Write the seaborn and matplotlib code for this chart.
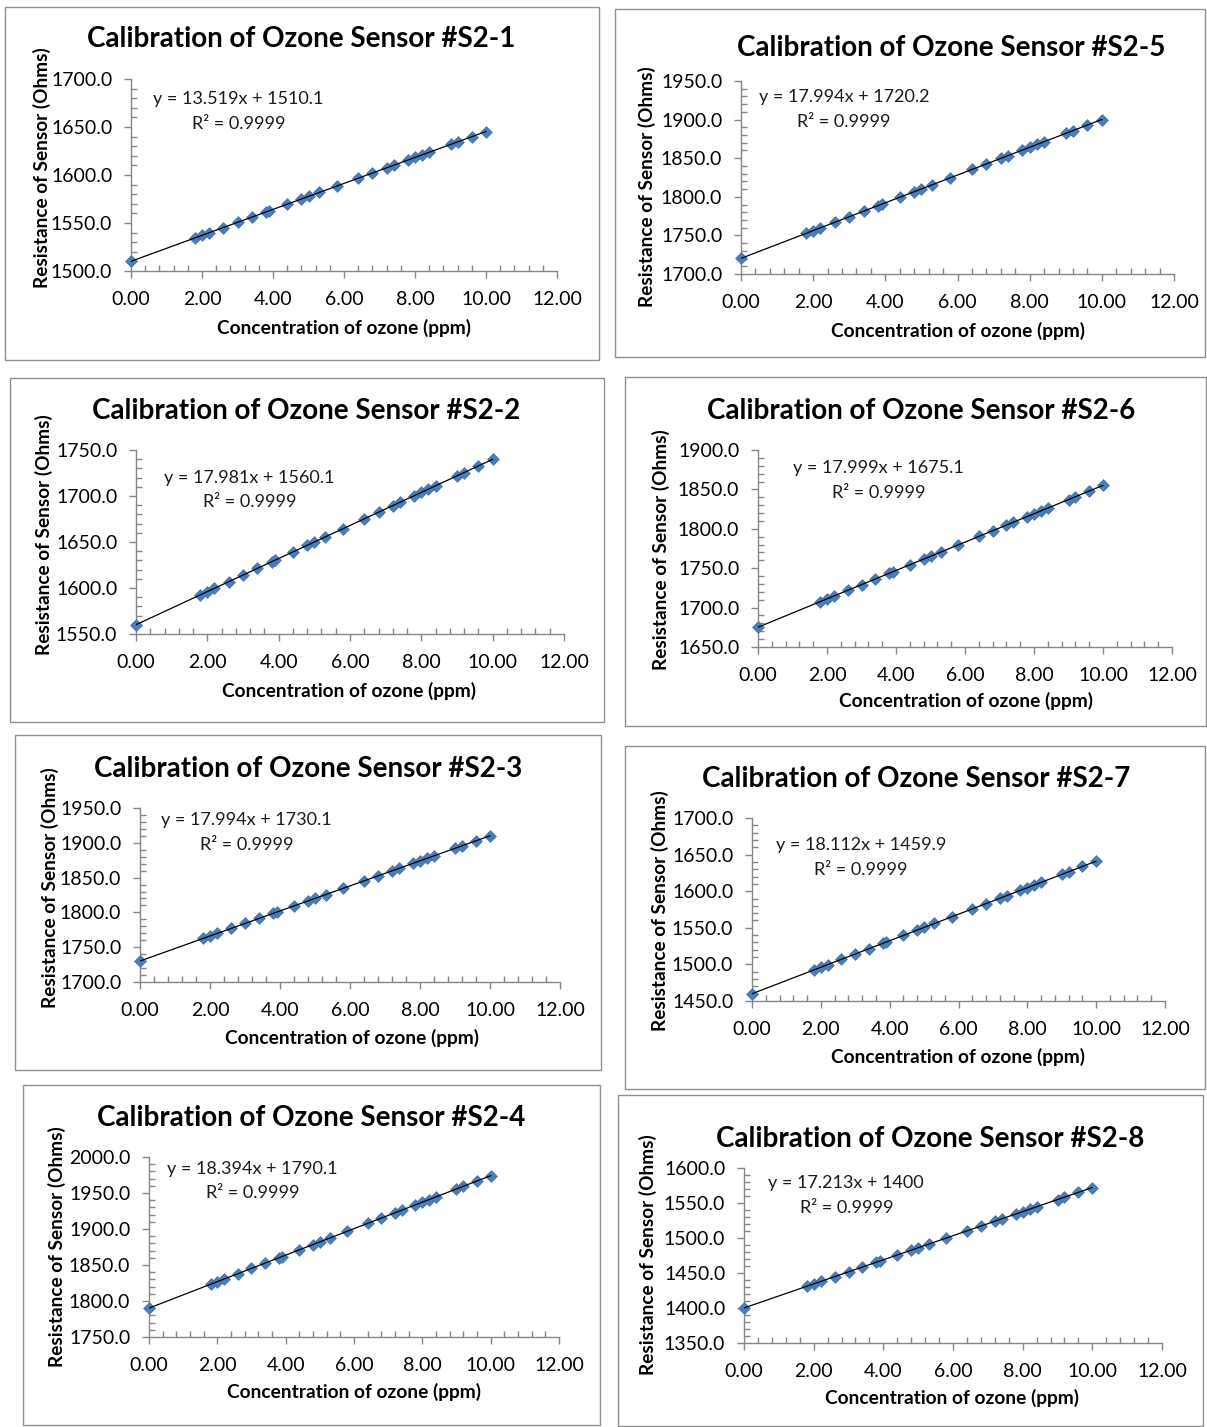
import numpy as np
import pandas as pd
import matplotlib
matplotlib.use("Agg")
import matplotlib.pyplot as plt
from matplotlib.patches import Rectangle
from matplotlib.ticker import MultipleLocator, FormatStrFormatter
import seaborn as sns

sns.set_theme(style="white")
plt.rcParams['font.family'] = ['Lato', 'DejaVu Sans']

# ---------------- data ----------------
concentration = [0.0, 1.8, 2.0, 2.2, 2.6, 3.0, 3.4, 3.8, 3.9, 4.4, 4.8, 5.0, 5.3,
                 5.8, 6.4, 6.8, 7.2, 7.4, 7.8, 8.0, 8.2, 8.4, 9.0, 9.2, 9.6, 10.0]

s2_1 = [1510.1, 1534.4, 1537.1, 1539.8, 1545.3, 1550.7, 1556.1, 1561.5, 1562.8, 1569.6,
        1575.0, 1577.7, 1581.8, 1588.5, 1596.6, 1602.0, 1607.4, 1610.1, 1615.6, 1618.3,
        1621.0, 1623.7, 1631.8, 1634.5, 1639.9, 1645.3]
s2_2 = [1560.1, 1592.5, 1596.1, 1599.7, 1606.9, 1614.0, 1621.2, 1628.4, 1630.2, 1639.2,
        1646.4, 1650.0, 1655.4, 1664.4, 1675.2, 1682.4, 1689.6, 1693.2, 1700.4, 1703.9,
        1707.5, 1711.1, 1721.9, 1725.5, 1732.7, 1739.9]
s2_3 = [1730.1, 1762.5, 1766.1, 1769.7, 1776.9, 1784.1, 1791.3, 1798.5, 1800.3, 1809.3,
        1816.5, 1820.1, 1825.5, 1834.5, 1845.3, 1852.5, 1859.7, 1863.3, 1870.5, 1874.1,
        1877.7, 1881.3, 1892.0, 1895.6, 1902.8, 1910.0]
s2_4 = [1790.1, 1823.2, 1826.9, 1830.6, 1837.9, 1845.3, 1852.6, 1860.0, 1861.8, 1871.0,
        1878.4, 1882.1, 1887.6, 1896.8, 1907.8, 1915.2, 1922.5, 1926.2, 1933.6, 1937.3,
        1940.9, 1944.6, 1955.6, 1959.3, 1966.7, 1974.0]
s2_5 = [1720.2, 1752.6, 1756.2, 1759.8, 1767.0, 1774.2, 1781.4, 1788.6, 1790.4, 1799.4,
        1806.6, 1810.2, 1815.6, 1824.6, 1835.4, 1842.6, 1849.8, 1853.4, 1860.6, 1864.2,
        1867.8, 1871.4, 1882.1, 1885.7, 1892.9, 1900.1]
s2_6 = [1675.1, 1707.5, 1711.1, 1714.7, 1721.9, 1729.1, 1736.3, 1743.5, 1745.3, 1754.3,
        1761.5, 1765.1, 1770.5, 1779.5, 1790.3, 1797.5, 1804.7, 1808.3, 1815.5, 1819.1,
        1822.7, 1826.3, 1837.1, 1840.7, 1847.9, 1855.1]
s2_7 = [1459.9, 1492.5, 1496.1, 1499.7, 1507.0, 1514.2, 1521.5, 1528.7, 1530.5, 1539.6,
        1546.8, 1550.5, 1555.9, 1565.0, 1575.8, 1583.1, 1590.3, 1593.9, 1601.2, 1604.8,
        1608.4, 1612.0, 1622.9, 1626.5, 1633.8, 1641.0]
s2_8 = [1400.0, 1431.0, 1434.4, 1437.9, 1444.8, 1451.6, 1458.5, 1465.4, 1467.1, 1475.7,
        1482.6, 1486.1, 1491.2, 1499.8, 1510.2, 1517.0, 1523.9, 1527.4, 1534.3, 1537.7,
        1541.1, 1544.6, 1554.9, 1558.4, 1565.2, 1572.1]

sensor_names = ["#S2-1", "#S2-2", "#S2-3", "#S2-4", "#S2-5", "#S2-6", "#S2-7", "#S2-8"]
sensor_values = [s2_1, s2_2, s2_3, s2_4, s2_5, s2_6, s2_7, s2_8]
equations = ["y = 13.519x + 1510.1", "y = 17.981x + 1560.1", "y = 17.994x + 1730.1",
             "y = 18.394x + 1790.1", "y = 17.994x + 1720.2", "y = 17.999x + 1675.1",
             "y = 18.112x + 1459.9", "y = 17.213x + 1400"]
r_squared = ["R\u00b2 = 0.9999"] * 8
y_ranges = [(1500, 1700), (1550, 1750), (1700, 1950), (1750, 2000),
            (1700, 1950), (1650, 1900), (1450, 1700), (1350, 1600)]

x_label = "Concentration of ozone (ppm)"
y_label = "Resistance of Sensor (Ohms)"
title_prefix = "Calibration of Ozone Sensor "

# ---------------- layout (pixels) ----------------
W, H = 1207, 1427
layout = [
    dict(box=(5, 7, 599, 360), ax=(131, 557, 79, 271), title=(301, 38), ylab=(42, 168),
         xlab=(344, 328), eq=(153, 99), r2=(192, 124)),
    dict(box=(10, 378, 604, 722), ax=(136, 564, 450, 634), title=(306, 410), ylab=(44, 535),
         xlab=(349, 691), eq=(164, 478), r2=(203, 502)),
    dict(box=(15, 735, 601, 1070), ax=(140, 560, 808, 982), title=(308, 768), ylab=(50, 888),
         xlab=(352, 1038), eq=(161, 820), r2=(200, 845)),
    dict(box=(23, 1085, 600, 1425), ax=(149, 559, 1157, 1337), title=(311, 1117), ylab=(57, 1247),
         xlab=(354, 1392), eq=(167, 1169), r2=(206, 1193)),
    dict(box=(615, 9, 1205, 357), ax=(741, 1174, 81, 274), title=(951, 47), ylab=(647, 187),
         xlab=(958, 331), eq=(759, 97), r2=(797, 122)),
    dict(box=(625, 377, 1206, 726), ax=(758, 1172, 450, 647), title=(921, 410), ylab=(661, 550),
         xlab=(966, 701), eq=(793, 468), r2=(832, 493)),
    dict(box=(625, 746, 1205, 1089), ax=(752, 1165, 818, 1001), title=(916, 778), ylab=(660, 911),
         xlab=(958, 1057), eq=(776, 845), r2=(814, 870)),
    dict(box=(618, 1095, 1203, 1426), ax=(744, 1162, 1168, 1343), title=(930, 1138), ylab=(648, 1255),
         xlab=(952, 1398), eq=(768, 1183), r2=(800, 1208)),
]

marker_color = "#4A7EBB"
axis_color = "#868686"

fig = plt.figure(figsize=(W / 100, H / 100), dpi=100)
fig.patch.set_facecolor("white")

def fx(px):
    return px / W

def fy(py):
    return 1 - py / H

for name, vals, eq, r2, yr, lay in zip(sensor_names, sensor_values, equations,
                                       r_squared, y_ranges, layout):
    bl, bt, br, bb = lay["box"]
    fig.patches.append(Rectangle((fx(bl), fy(bb)), fx(br) - fx(bl), fy(bt) - fy(bb),
                                 transform=fig.transFigure, fill=False,
                                 edgecolor="#8f8f8f", lw=1.0, zorder=0))
    al, ar, at, ab = lay["ax"]
    ax = fig.add_axes([fx(al), fy(ab), fx(ar) - fx(al), fy(at) - fy(ab)])
    df = pd.DataFrame({"conc": concentration, "res": vals})
    sns.regplot(data=df, x="conc", y="res", ax=ax, ci=None, truncate=True,
                marker="D",
                scatter_kws=dict(s=36, color=marker_color, edgecolor="#3f6fa8",
                                 linewidths=0.5, alpha=1, zorder=2, clip_on=False),
                line_kws=dict(color="black", lw=0.9, zorder=3))
    ax.set_xlim(0, 12)
    ax.set_ylim(*yr)
    ax.set_xlabel("")
    ax.set_ylabel("")
    ax.set_facecolor("none")
    for s in ["top", "right"]:
        ax.spines[s].set_visible(False)
    for s in ["left", "bottom"]:
        ax.spines[s].set_color(axis_color)
        ax.spines[s].set_linewidth(1.0)
        ax.spines[s].set_zorder(1)
    ax.xaxis.set_major_locator(MultipleLocator(2))
    ax.xaxis.set_minor_locator(MultipleLocator(0.4))
    ax.yaxis.set_major_locator(MultipleLocator(50))
    ax.yaxis.set_minor_locator(MultipleLocator(10))
    ax.xaxis.set_major_formatter(FormatStrFormatter("%.2f"))
    ax.yaxis.set_major_formatter(FormatStrFormatter("%.1f"))
    ax.tick_params(which="major", direction="out", length=5, width=1, color=axis_color,
                   labelsize=14, labelcolor="black", bottom=True, left=True)
    ax.tick_params(which="minor", direction="in", length=4, width=1, color=axis_color,
                   bottom=True, left=True)
    ax.tick_params(axis="x", which="major", pad=9.5)
    ax.tick_params(axis="y", which="major", pad=8.5)

    tx, ty = lay["title"]
    fig.text(fx(tx), fy(ty + 1), title_prefix + name, ha="center", va="center",
             fontsize=20, fontweight="bold", color="black")
    yx, yy = lay["ylab"]
    fig.text(fx(yx), fy(yy), y_label, ha="center", va="center", rotation=90,
             fontsize=13.7, fontweight="bold", color="black")
    xx, xy = lay["xlab"]
    fig.text(fx(xx), fy(xy), x_label, ha="center", va="center",
             fontsize=13.8, fontweight="bold", color="black")
    ex, ey = lay["eq"]
    fig.text(fx(ex), fy(ey), eq, ha="left", va="center", fontsize=13, color="#1a1a1a")
    rx, ry = lay["r2"]
    fig.text(fx(rx), fy(ry), r2, ha="left", va="center", fontsize=13, color="#1a1a1a")

fig.savefig("out.png", dpi=100, facecolor="white")
